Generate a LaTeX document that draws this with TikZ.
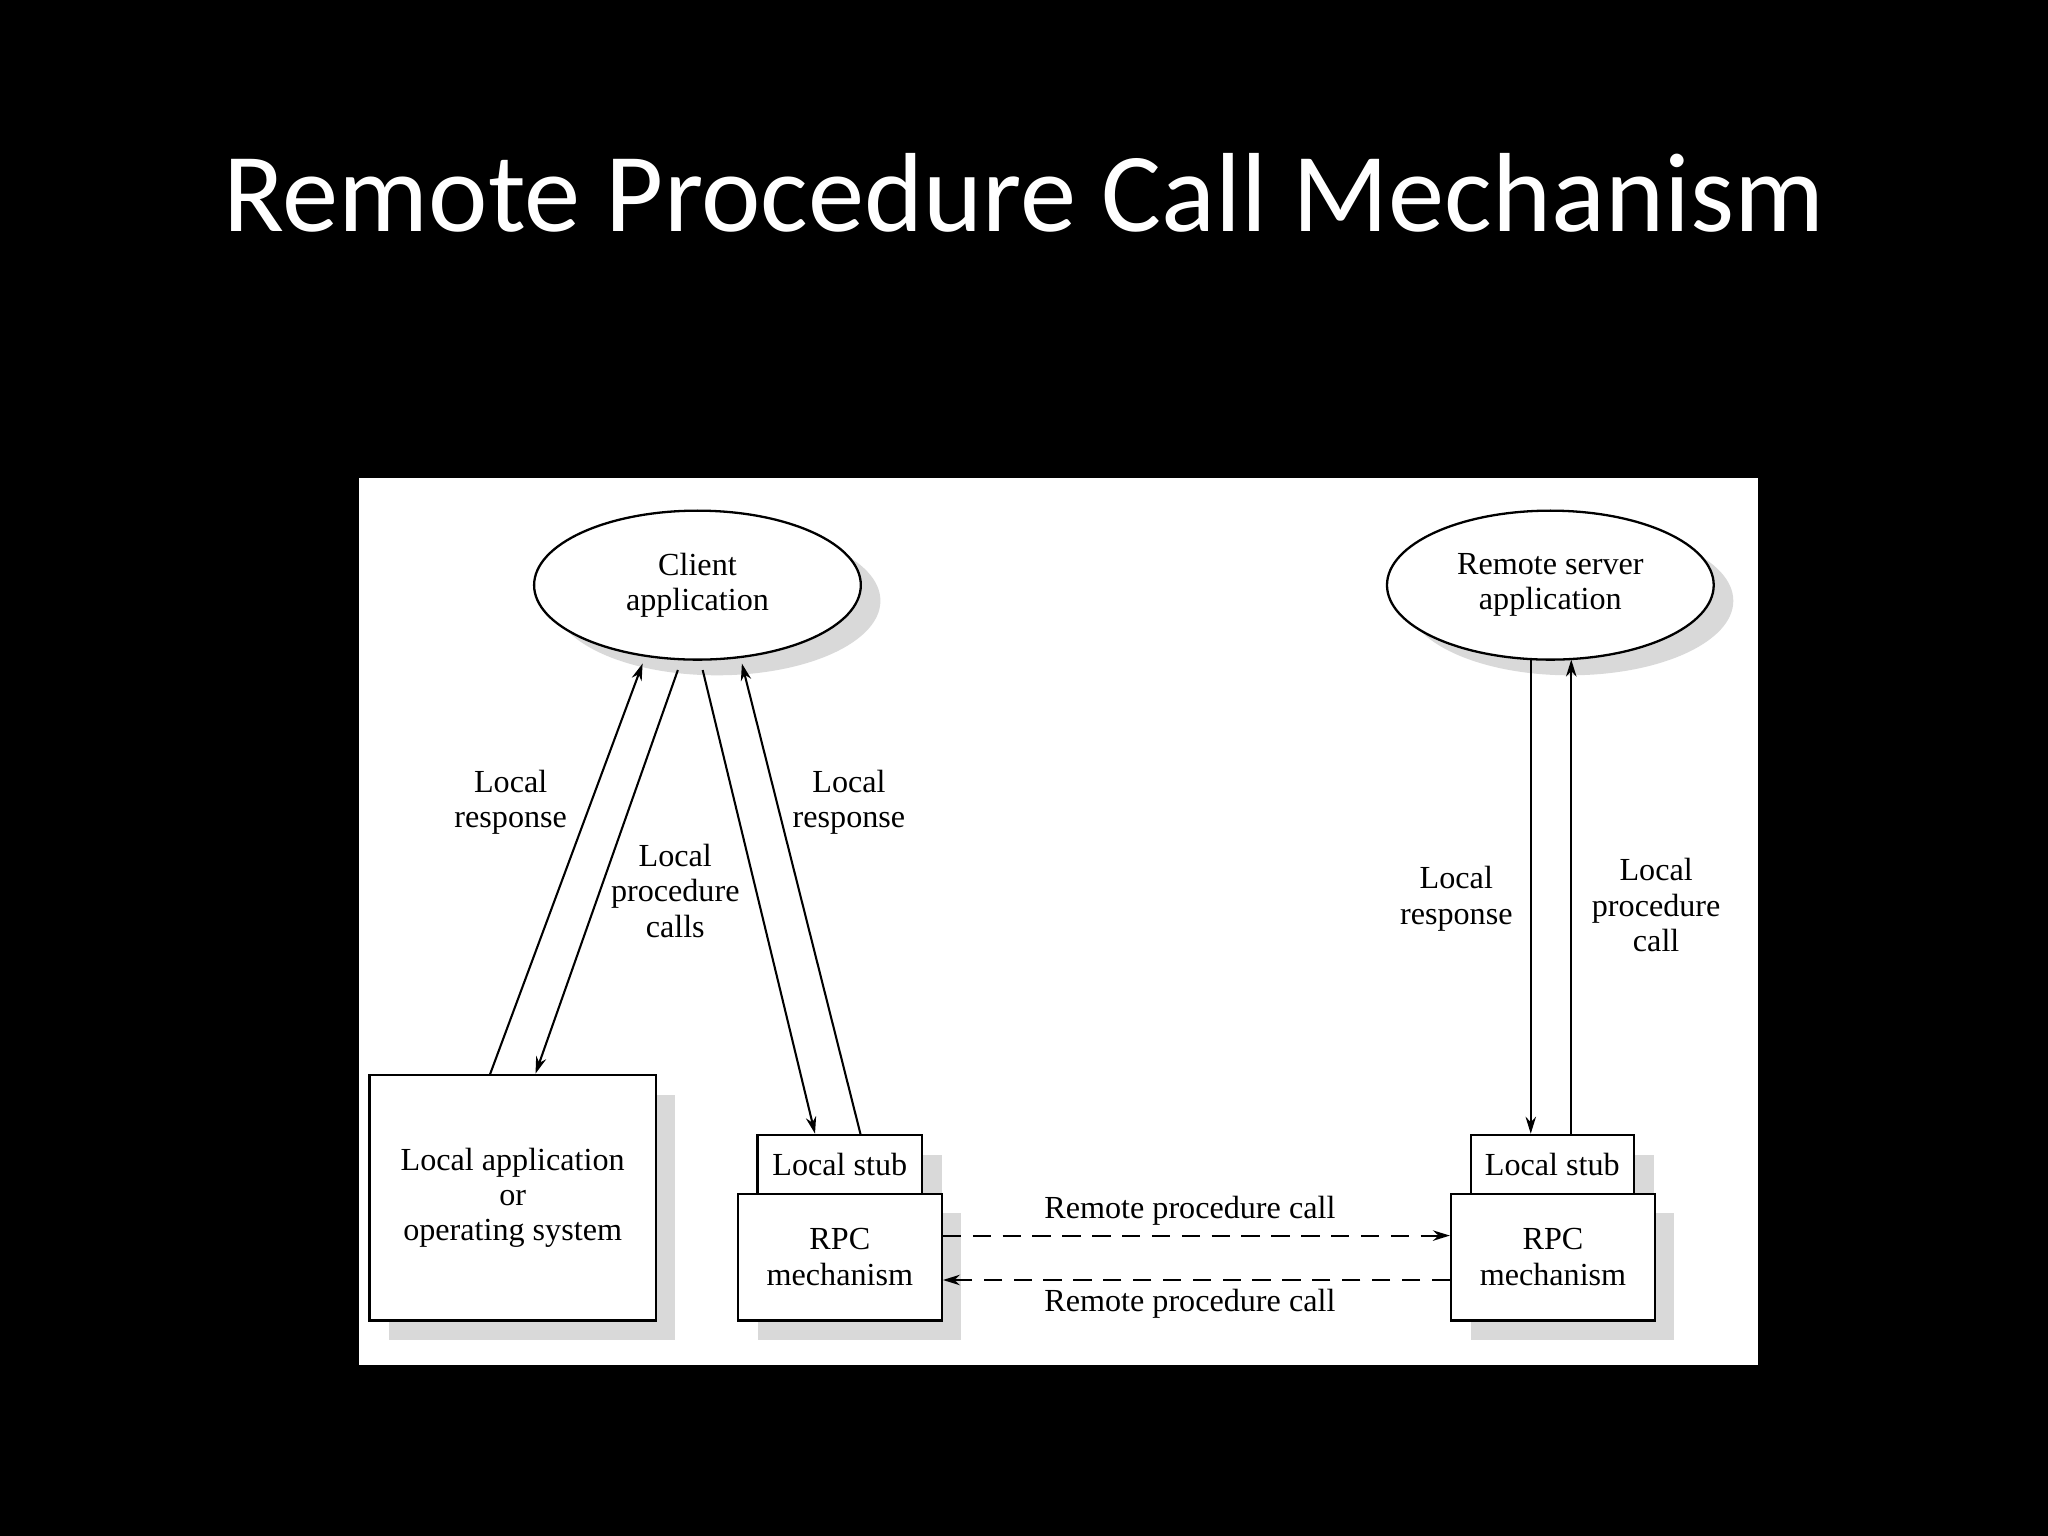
\documentclass[tikz,border=0pt]{standalone}
\usepackage{fontspec}
\setmainfont{Liberation Serif}
\newfontfamily\titlefont{Carlito}
\usetikzlibrary{arrows.meta,shapes.geometric}
\begin{document}
\begin{tikzpicture}[x=0.01cm,y=-0.01cm,
  lbl/.style={font=\fontsize{7}{7.7}\selectfont,align=center,inner sep=0},
  box/.style={draw,line width=0.5pt,fill=white},
  shad/.style={fill=black!15,draw=none},
  arr/.style={line width=0.45pt,-{Stealth[length=0.13cm,width=0.08cm]}},
  darr/.style={arr,dash pattern=on 4pt off 2.5pt}]
\fill[black] (0,0) rectangle (1568,1176);
\useasboundingbox (0,0) rectangle (1568,1176);
\node[text=white,font=\titlefont\fontsize{24.5}{26}\selectfont] (title) at (784,148) {Remote Procedure Call Mechanism};
\fill[white] (275,366) rectangle (1346,1045);
% shadows
\fill[shad] (549,460) ellipse [x radius=1.25cm,y radius=0.57cm];
\fill[shad] (1202,460) ellipse [x radius=1.25cm,y radius=0.57cm];
\fill[shad] (298,838) rectangle (517,1026);
\fill[shad] (595,884) rectangle (721,929);
\fill[shad] (580,929) rectangle (736,1026);
\fill[shad] (1141,884) rectangle (1266,929);
\fill[shad] (1126,929) rectangle (1282,1026);
% shapes
\node[ellipse,box,minimum width=2.5cm,minimum height=1.14cm,lbl] (client) at (534,448) {Client\\application};
\node[ellipse,box,minimum width=2.5cm,minimum height=1.14cm,lbl] (server) at (1187,448) {Remote server\\application};
\node[box,minimum width=2.19cm,minimum height=1.88cm,lbl] (localapp) at (392.5,917) {Local application\\or\\operating system};
\node[box,minimum width=1.26cm,minimum height=0.45cm,lbl] (stubL) at (643,891.5) {Local stub};
\node[box,minimum width=1.56cm,minimum height=0.97cm,lbl] (rpcL) at (643,962.5) {RPC\\mechanism};
\node[box,minimum width=1.25cm,minimum height=0.45cm,lbl] (stubR) at (1188.5,891.5) {Local stub};
\node[box,minimum width=1.56cm,minimum height=0.97cm,lbl] (rpcR) at (1189,962.5) {RPC\\mechanism};
% connectors
\coordinate (a1) at (375,823); \coordinate (a2) at (492,508);
\coordinate (b1) at (519,513); \coordinate (b2) at (410,822);
\coordinate (c1) at (538,513); \coordinate (c2) at (624,868);
\coordinate (d1) at (659,869); \coordinate (d2) at (568,508);
\coordinate (e1) at (1172,505); \coordinate (e2) at (1172,868);
\coordinate (f1) at (1203,869); \coordinate (f2) at (1203,505);
\draw[arr] (a1) -- (a2);
\draw[arr] (b1) -- (b2);
\draw[arr] (c1) -- (c2);
\draw[arr] (d1) -- (d2);
\draw[arr] (e1) -- (e2);
\draw[arr] (f1) -- (f2);
\draw[darr] (rpcL.east |- 0,946) -- (rpcR.west |- 0,946);
\draw[darr] (rpcR.west |- 0,980) -- (rpcL.east |- 0,980);
% labels
\node[lbl] (l1) at (391,614) {Local\\response};
\node[lbl] (l2) at (517,682) {Local\\procedure\\calls};
\node[lbl] (l3) at (650,614) {Local\\response};
\node[lbl] (l4) at (1115,688) {Local\\response};
\node[lbl] (l5) at (1268,693) {Local\\procedure\\call};
\node[lbl] (l6) at (911,927) {Remote procedure call};
\node[lbl] (l7) at (911,998) {Remote procedure call};
\end{tikzpicture}
\end{document}
